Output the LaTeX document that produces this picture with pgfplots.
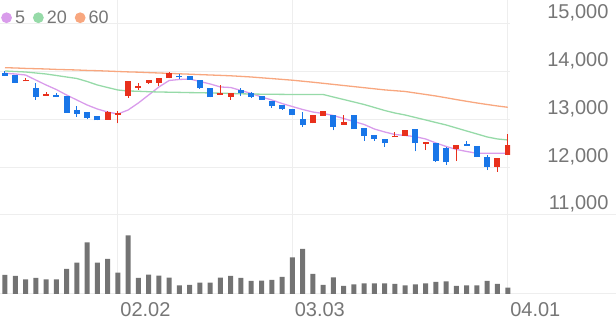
\documentclass[border=0pt]{standalone}
\usepackage{fontspec}
\setmainfont{Liberation Sans}
\usepackage{pgfplots}
\pgfplotsset{compat=1.18}
\usepackage{pgfplotstable}
\definecolor{upc}{HTML}{E8301C}
\definecolor{dnc}{HTML}{1976E8}
\definecolor{ma5}{HTML}{D99CEB}
\definecolor{ma20}{HTML}{96DAA8}
\definecolor{ma60}{HTML}{F8A77F}
\definecolor{gridc}{HTML}{EEEEEE}
\definecolor{txt}{HTML}{767676}
\definecolor{volc}{HTML}{737373}

\pgfplotstableread{
i o h l c
2 13800 13860 13800 13830
4 13500 13580 13500 13540
10 12990 13180 12990 13160
11 13100 13180 12920 13130
12 13490 13810 13460 13810
13 13660 13770 13620 13700
14 13770 13830 13740 13830
15 13770 13860 13700 13860
16 13860 13990 13860 13970
21 13520 13720 13520 13560
22 13480 13550 13410 13550
30 12920 13090 12920 13090
31 13080 13180 13080 13180
33 12890 13090 12890 12950
38 12630 12745 12630 12660
39 12655 12790 12655 12790
41 12490 12530 12360 12520
44 12380 12470 12130 12470
48 12010 12190 11910 12190
49 12260 12690 12260 12470
}\up

\pgfplotstableread{
i o h l c
0 13970 14020 13910 13920
1 13930 13940 13760 13770
3 13650 13760 13410 13470
5 13520 13550 13470 13470
6 13490 13490 13140 13140
7 13200 13280 13060 13120
8 13160 13160 13000 13030
9 13070 13070 12980 12980
17 13920 13950 13840 13880
18 13910 13910 13830 13830
19 13820 13820 13640 13650
20 13670 13670 13465 13465
23 13620 13670 13490 13550
24 13550 13570 13450 13470
25 13490 13490 13410 13410
26 13390 13390 13250 13280
27 13300 13300 13200 13210
28 13210 13210 13090 13090
29 13000 13160 12840 12880
32 13100 13100 12770 12850
34 13090 13090 12800 12800
35 12820 12820 12550 12655
36 12680 12680 12560 12590
37 12590 12590 12430 12500
40 12800 12800 12330 12500
42 12500 12500 12110 12130
43 12400 12430 12050 12100
45 12490 12560 12450 12450
46 12450 12450 12210 12210
47 12210 12250 11940 12010
}\down

\pgfplotstableread{
i m5 m20 m60
0 13968 14016 14085
1 13953 14005 14079
2 13932 13995 14070
3 13827 13974 14064
4 13723 13953 14058
5 13628 13922 14049
6 13513 13890 14043
7 13409 13859 14037
8 13304 13796 14028
9 13220 13723 14022
10 13157 13670 14014
11 13115 13618 14005
12 13199 13597 13997
13 13346 13591 13991
14 13513 13582 13982
15 13681 13576 13974
16 13817 13572 13966
17 13838 13568 13957
18 13848 13563 13949
19 13796 13561 13940
20 13744 13555 13932
21 13681 13551 13924
22 13670 13545 13915
23 13607 13538 13903
24 13545 13534 13890
25 13471 13530 13873
26 13409 13528 13857
27 13335 13526 13840
28 13272 13524 13823
29 13210 13524 13802
30 13157 13524 13781
31 13126 13524 13758
32 13084 13471 13735
33 13021 13419 13712
34 12958 13367 13689
35 12896 13314 13666
36 12801 13252 13643
37 12739 13189 13620
38 12686 13136 13603
39 12665 13094 13587
40 12640 13042 13555
41 12592 12990 13524
42 12508 12937 13492
43 12435 12885 13455
44 12372 12822 13417
45 12330 12759 13381
46 12292 12697 13346
47 12292 12634 13314
48 12292 12592 13283
49 12292 12571 13256
}\ma

\pgfplotstableread{
i v
0 95000
1 90000
2 73500
3 80000
4 73500
5 73500
6 125000
7 156500
8 258500
9 156500
10 175000
11 106500
12 293500
13 80000
14 96500
15 91500
16 81500
17 43500
18 45000
19 56500
20 56500
21 81500
22 90000
23 80000
24 65000
25 66500
26 70000
27 85000
28 183500
29 225000
30 100000
31 45000
32 83500
33 40000
34 48500
35 53500
36 53500
37 53500
38 50000
39 43500
40 48500
41 53500
42 60000
43 63500
44 40000
45 43500
46 43500
47 65000
48 50000
49 31500
}\vol

\begin{document}
\begin{tikzpicture}
% volume panel
\begin{axis}[
  name=vol, at={(0pt,0pt)}, anchor=south west, scale only axis,
  width=616pt, height=79pt,
  xmin=-0.487, xmax=59.55, ymin=0, ymax=395000,
  scaled y ticks=false, scaled x ticks=false,
  axis line style={draw=none}, major tick length=0pt,
  xtick={11,28,49}, xticklabels={02.02,03.03,04.01},
  xticklabel style={anchor=base west, font=\fontsize{20}{20}\selectfont, text=txt, xshift=-1pt, yshift=-23pt},
  ytick={0,395000}, yticklabels={},
  grid=major, grid style={gridc, line width=1pt},
  clip=false,
]
\addplot[ybar, bar width=5pt, fill=volc, draw=none] table[x=i,y=v]{\vol};
\end{axis}
% price panel
\begin{axis}[
  name=price, at={(vol.north west)}, anchor=south west, scale only axis,
  width=510pt, height=215pt,
  xmin=-0.487, xmax=49.22, ymin=11000, ymax=15502.6,
  scaled y ticks=false, scaled x ticks=false,
  axis line style={draw=none}, major tick length=0pt,
  xtick={11,28,49}, xticklabels={},
  ytick={11000,12000,13000,14000,15000},
  yticklabel pos=right,
  /pgf/number format/assume math mode=true,
  /pgf/number format/.cd, 1000 sep={,}, /pgfplots/.cd,
  yticklabel style={anchor=base east, font=\fontsize{20}{20}\selectfont, text=txt, xshift=102pt, yshift=5pt},
  grid=major, grid style={gridc, line width=1pt},
  legend columns=-1,
  legend style={draw=none, fill=none, at={(0,1)}, anchor=north west, xshift=-2pt, yshift=-6.5pt,
    font=\fontsize{18}{18}\selectfont, text=txt,
    /tikz/every even column/.append style={column sep=6pt}},
  legend image code/.code={\fill (4.7pt,0pt) circle (4.7pt); \path (10.5pt,0pt);},
]
\addplot[ma5, line width=1.3pt] table[x=i,y=m5]{\ma};
\addlegendentry{5}
\addplot[ma20, line width=1.3pt] table[x=i,y=m20]{\ma};
\addlegendentry{20}
\addplot[ma60, line width=1.3pt] table[x=i,y=m60]{\ma};
\addlegendentry{60}
% wicks
\addplot[forget plot, draw=none, mark=none, error bars/.cd, y dir=plus, y explicit, error mark=none, error bar style={draw=upc, line width=1pt}] table[x=i, y=l, y error expr=\thisrow{h}-\thisrow{l}]{\up};
\addplot[forget plot, draw=none, mark=none, error bars/.cd, y dir=plus, y explicit, error mark=none, error bar style={draw=dnc, line width=1pt}] table[x=i, y=l, y error expr=\thisrow{h}-\thisrow{l}]{\down};
% bodies
\addplot[forget plot, draw=none, mark=none, error bars/.cd, y dir=plus, y explicit, error mark=none, error bar style={draw=upc, line width=6pt}] table[x=i, y=o, y error expr=\thisrow{c}-\thisrow{o}]{\up};
\addplot[forget plot, draw=none, mark=none, error bars/.cd, y dir=plus, y explicit, error mark=none, error bar style={draw=dnc, line width=6pt}] table[x=i, y=c, y error expr=\thisrow{o}-\thisrow{c}]{\down};
\end{axis}
\pgfresetboundingbox
\path[use as bounding box] ([yshift=-27pt]vol.south west) rectangle ([xshift=616pt,yshift=294pt]vol.south west);
\end{tikzpicture}
\end{document}
